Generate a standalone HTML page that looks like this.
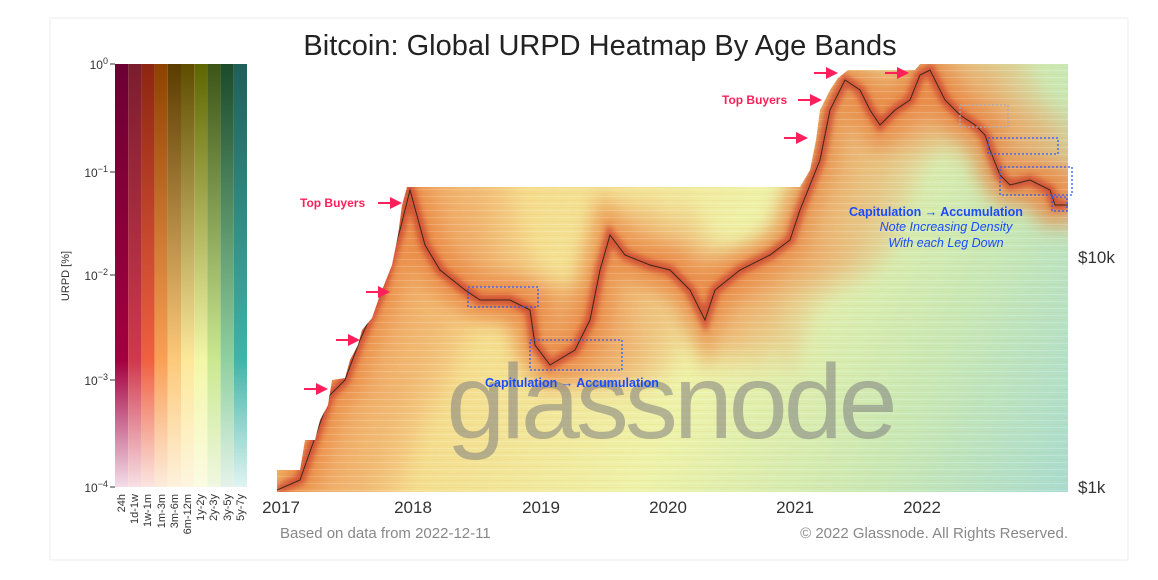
<!DOCTYPE html>
<html><head><meta charset="utf-8"><style>
body{margin:0;background:#fff;width:1158px;height:575px;overflow:hidden;font-family:"Liberation Sans",sans-serif}
</style></head><body>
<svg width="1158" height="575" viewBox="0 0 1158 575" xmlns="http://www.w3.org/2000/svg" font-family="Liberation Sans, sans-serif">
<defs>
<linearGradient id="bg" x1="277" y1="120" x2="1068" y2="492" gradientUnits="userSpaceOnUse">
<stop offset="0" stop-color="#f4b86a"/><stop offset="0.3" stop-color="#f5dc8c"/><stop offset="0.55" stop-color="#eef2a8"/><stop offset="0.8" stop-color="#c9e8b4"/><stop offset="1" stop-color="#a9dccf"/>
</linearGradient>
<pattern id="streak" width="10" height="7" patternUnits="userSpaceOnUse"><rect width="10" height="1" fill="#ffffff" opacity="0.18"/><rect y="4" width="10" height="0.8" fill="#c98a40" opacity="0.08"/></pattern>
<filter id="bl" x="-20%" y="-20%" width="140%" height="140%"><feGaussianBlur stdDeviation="10"/></filter>
<filter id="bl2"><feGaussianBlur stdDeviation="3"/></filter>
<clipPath id="pc"><rect x="277" y="64" width="791" height="428"/></clipPath>
<marker id="ar" markerWidth="6" markerHeight="6" refX="4" refY="3" orient="auto"><path d="M0,0 L6,3 L0,6z" fill="#ff1f5a"/></marker>
<polyline id="pr" fill="none" points="277,490 300,480 330,395 345,380 360,340 380,295 400,230 410,190 425,245 440,270 465,290 480,300 510,300 530,310 535,345 550,365 575,350 590,320 600,270 610,235 625,255 650,265 670,270 690,290 705,320 715,290 740,270 770,255 790,240 800,210 810,185 820,160 830,110 845,80 860,90 870,110 880,125 895,110 910,100 920,75 930,70 945,100 960,115 975,125 985,135 990,150 1000,175 1010,185 1030,180 1050,190 1055,205 1068,205"/>
<linearGradient id="c0" x1="0" y1="0" x2="0" y2="1"><stop offset="0" stop-color="#6b0033"/><stop offset="0.7" stop-color="#a3003e"/><stop offset="1" stop-color="#f3dde8"/></linearGradient>
<linearGradient id="c1" x1="0" y1="0" x2="0" y2="1"><stop offset="0" stop-color="#7a1d2e"/><stop offset="0.7" stop-color="#d0384e"/><stop offset="1" stop-color="#f8e0e4"/></linearGradient>
<linearGradient id="c2" x1="0" y1="0" x2="0" y2="1"><stop offset="0" stop-color="#8c2610"/><stop offset="0.7" stop-color="#ef6040"/><stop offset="1" stop-color="#fbe5e0"/></linearGradient>
<linearGradient id="c3" x1="0" y1="0" x2="0" y2="1"><stop offset="0" stop-color="#8e4200"/><stop offset="0.7" stop-color="#f9a055"/><stop offset="1" stop-color="#fdebdc"/></linearGradient>
<linearGradient id="c4" x1="0" y1="0" x2="0" y2="1"><stop offset="0" stop-color="#5a3c00"/><stop offset="0.7" stop-color="#fdc97a"/><stop offset="1" stop-color="#fdf2dc"/></linearGradient>
<linearGradient id="c5" x1="0" y1="0" x2="0" y2="1"><stop offset="0" stop-color="#5e4d00"/><stop offset="0.7" stop-color="#fde89a"/><stop offset="1" stop-color="#fdf5df"/></linearGradient>
<linearGradient id="c6" x1="0" y1="0" x2="0" y2="1"><stop offset="0" stop-color="#5d6600"/><stop offset="0.7" stop-color="#f2f7a8"/><stop offset="1" stop-color="#fbfbe3"/></linearGradient>
<linearGradient id="c7" x1="0" y1="0" x2="0" y2="1"><stop offset="0" stop-color="#3c5416"/><stop offset="0.7" stop-color="#cbe890"/><stop offset="1" stop-color="#f0f8e0"/></linearGradient>
<linearGradient id="c8" x1="0" y1="0" x2="0" y2="1"><stop offset="0" stop-color="#1a4a2a"/><stop offset="0.7" stop-color="#8fd0a0"/><stop offset="1" stop-color="#e5f3ea"/></linearGradient>
<linearGradient id="c9" x1="0" y1="0" x2="0" y2="1"><stop offset="0" stop-color="#1f5f5a"/><stop offset="0.7" stop-color="#3fb5a8"/><stop offset="1" stop-color="#e0f4f2"/></linearGradient>
</defs>
<rect x="50" y="18" width="1078" height="542" fill="none" stroke="#eeeeee"/>
<text x="600" y="55" font-size="29" text-anchor="middle" fill="#222">Bitcoin: Global URPD Heatmap By Age Bands</text>
<g>
<rect x="115" y="64" width="13.2" height="423" fill="url(#c0)"/>
<rect x="128.2" y="64" width="13.2" height="423" fill="url(#c1)"/>
<rect x="141.4" y="64" width="13.2" height="423" fill="url(#c2)"/>
<rect x="154.6" y="64" width="13.2" height="423" fill="url(#c3)"/>
<rect x="167.8" y="64" width="13.2" height="423" fill="url(#c4)"/>
<rect x="181" y="64" width="13.2" height="423" fill="url(#c5)"/>
<rect x="194.2" y="64" width="13.2" height="423" fill="url(#c6)"/>
<rect x="207.4" y="64" width="13.2" height="423" fill="url(#c7)"/>
<rect x="220.6" y="64" width="13.2" height="423" fill="url(#c8)"/>
<rect x="233.8" y="64" width="13.2" height="423" fill="url(#c9)"/>
</g>
<g font-size="12" fill="#333" text-anchor="end">
<text x="108" y="69">10<tspan dy="-5" font-size="9">0</tspan></text>
<text x="108" y="177">10<tspan dy="-5" font-size="9">−1</tspan></text>
<text x="108" y="280">10<tspan dy="-5" font-size="9">−2</tspan></text>
<text x="108" y="385">10<tspan dy="-5" font-size="9">−3</tspan></text>
<text x="108" y="492">10<tspan dy="-5" font-size="9">−4</tspan></text>
</g>
<g stroke="#333"><line x1="110" y1="64" x2="115" y2="64"/><line x1="110" y1="172" x2="115" y2="172"/><line x1="110" y1="275" x2="115" y2="275"/><line x1="110" y1="380" x2="115" y2="380"/><line x1="110" y1="487" x2="115" y2="487"/></g>
<text transform="translate(69,276) rotate(-90)" font-size="11" fill="#333" text-anchor="middle">URPD [%]</text>
<g font-size="11" fill="#333" text-anchor="end">
<text transform="translate(125,494) rotate(-90)">24h</text>
<text transform="translate(138,494) rotate(-90)">1d-1w</text>
<text transform="translate(151,494) rotate(-90)">1w-1m</text>
<text transform="translate(165,494) rotate(-90)">1m-3m</text>
<text transform="translate(178,494) rotate(-90)">3m-6m</text>
<text transform="translate(191,494) rotate(-90)">6m-12m</text>
<text transform="translate(204,494) rotate(-90)">1y-2y</text>
<text transform="translate(217,494) rotate(-90)">2y-3y</text>
<text transform="translate(231,494) rotate(-90)">3y-5y</text>
<text transform="translate(244,494) rotate(-90)">5y-7y</text>
</g>
<g clip-path="url(#pc)">
<rect x="277" y="64" width="791" height="428" fill="url(#bg)"/>
<g filter="url(#bl)" stroke="#eea060" stroke-width="40">
<use href="#pr" transform="translate(80,6)" stroke-opacity="0.35"/>
<use href="#pr" transform="translate(50,4)" stroke-opacity="0.45"/>
<use href="#pr" transform="translate(25,2)" stroke-opacity="0.55"/>
</g>
<use href="#pr" filter="url(#bl)" stroke="#e8823f" stroke-opacity="0.75" stroke-width="40"/>
<rect x="277" y="64" width="791" height="428" fill="url(#streak)"/>
<use href="#pr" filter="url(#bl2)" stroke="#c8372a" stroke-opacity="0.7" stroke-width="10"/>
<use href="#pr" stroke="#3a2a1a" stroke-width="1"/>
<polygon fill="#ffffff" points="277,64 277,470 300,470 305,440 315,440 320,420 328,405 332,380 345,378 350,360 358,345 362,330 372,318 380,295 392,265 398,235 402,205 407,187 800,187 810,170 816,140 820,110 830,90 838,78 848,70 915,70 920,64"/>
</g>
<text x="670" y="438" font-size="106" fill="#808080" fill-opacity="0.55" text-anchor="middle" letter-spacing="-4">glassnode</text>
<g fill="#ff1f5a" font-size="12" font-weight="bold">
<text x="300" y="207">Top Buyers</text>
<text x="722" y="104">Top Buyers</text>
</g>
<g stroke="#ff1f5a" stroke-width="2" marker-end="url(#ar)">
<line x1="378" y1="203" x2="398" y2="203"/>
<line x1="798" y1="100" x2="818" y2="100"/>
<line x1="814" y1="73" x2="834" y2="73"/>
<line x1="885" y1="73" x2="905" y2="73"/>
<line x1="784" y1="138" x2="804" y2="138"/>
<line x1="366" y1="292" x2="386" y2="292"/>
<line x1="336" y1="340" x2="356" y2="340"/>
<line x1="304" y1="389" x2="324" y2="389"/>
</g>
<g fill="none" stroke="#2a5cff" stroke-width="1.3" stroke-dasharray="2,2">
<rect x="468" y="287" width="70" height="20"/>
<rect x="530" y="340" width="92" height="30"/>
<rect x="1000" y="167" width="72" height="28"/>
<rect x="988" y="138" width="70" height="16"/>
<rect x="1052" y="197" width="15" height="14"/>
<rect x="960" y="105" width="48" height="22" stroke="#aab"/>
</g>
<g fill="#1a4cff" font-size="12.5">
<text x="485" y="387" font-weight="bold">Capitulation → Accumulation</text>
<text x="849" y="216" font-weight="bold">Capitulation → Accumulation</text>
<text x="946" y="231" text-anchor="middle" font-style="italic">Note Increasing Density</text>
<text x="946" y="247" text-anchor="middle" font-style="italic">With each Leg Down</text>
</g>
<g font-size="17" fill="#333">
<text x="281" y="513" text-anchor="middle">2017</text>
<text x="413" y="513" text-anchor="middle">2018</text>
<text x="541" y="513" text-anchor="middle">2019</text>
<text x="668" y="513" text-anchor="middle">2020</text>
<text x="795" y="513" text-anchor="middle">2021</text>
<text x="922" y="513" text-anchor="middle">2022</text>
<text x="1078" y="263">$10k</text>
<text x="1078" y="493">$1k</text>
</g>
<g fill="#888" font-size="15">
<text x="280" y="538">Based on data from 2022-12-11</text>
<text x="1068" y="538" text-anchor="end">© 2022 Glassnode. All Rights Reserved.</text>
</g>
</svg>
</body></html>
